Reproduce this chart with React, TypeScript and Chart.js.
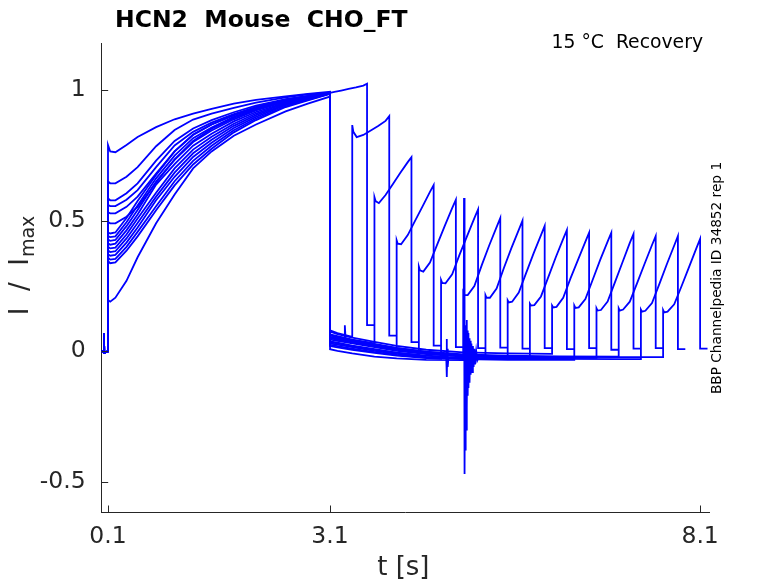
import { useEffect, useRef } from "react";
import { Chart, registerables } from "chart.js";

Chart.register(...registerables);

const FONT = '"DejaVu Sans", sans-serif';
const AXIS_COLOR = "#262626";
const TRACE_COLOR = "#0000ff";

const TITLE = "HCN2  Mouse  CHO_FT";
const SUBTITLE = "15 °C  Recovery";
const SIDE_LABEL = "BBP Channelpedia ID 34852 rep 1";

const X_MIN = 0.015;
const X_MAX = 8.22;
const Y_MIN = -0.615;
const Y_MAX = 1.18;
const X_TICKS = [0.1, 3.1, 8.1];
const X_TICK_LABELS = ["0.1", "3.1", "8.1"];
const Y_TICKS = [-0.5, 0, 0.5, 1];
const Y_TICK_LABELS = ["-0.5", "0", "0.5", "1"];

// holding segment before the conditioning step (shared by all sweeps)
const START_T = [0.015, 0.043, 0.046, 0.049, 0.1];
const START_I = [0.0, 0.0, 0.07, -0.005, 0.0];

// conditioning step 0.1 s -> 3.1 s
const PRE_T = [0.1, 0.13, 0.2, 0.35, 0.5, 0.75, 1.0, 1.25, 1.5, 1.8, 2.1, 2.5, 2.8, 3.1];
const PRE_I = [
  [0.79, 0.765, 0.762, 0.79, 0.82, 0.858, 0.888, 0.91, 0.928, 0.948, 0.962, 0.976, 0.985, 0.993],
  [0.65, 0.643, 0.643, 0.668, 0.705, 0.785, 0.847, 0.887, 0.91, 0.932, 0.952, 0.972, 0.983, 0.99],
  [0.585, 0.578, 0.578, 0.605, 0.643, 0.73, 0.805, 0.853, 0.885, 0.915, 0.94, 0.965, 0.978, 0.99],
  [0.56, 0.556, 0.556, 0.58, 0.617, 0.705, 0.788, 0.84, 0.875, 0.908, 0.935, 0.962, 0.976, 0.99],
  [0.532, 0.528, 0.528, 0.553, 0.592, 0.68, 0.765, 0.828, 0.868, 0.903, 0.932, 0.96, 0.975, 0.99],
  [0.495, 0.49, 0.49, 0.515, 0.553, 0.645, 0.735, 0.805, 0.852, 0.893, 0.925, 0.957, 0.973, 0.99],
  [0.455, 0.451, 0.455, 0.51, 0.575, 0.675, 0.765, 0.83, 0.868, 0.905, 0.935, 0.963, 0.977, 0.99],
  [0.441, 0.437, 0.44, 0.494, 0.558, 0.662, 0.749, 0.816, 0.856, 0.897, 0.929, 0.959, 0.975, 0.99],
  [0.428, 0.423, 0.426, 0.479, 0.541, 0.65, 0.733, 0.801, 0.845, 0.888, 0.922, 0.956, 0.973, 0.99],
  [0.414, 0.408, 0.412, 0.463, 0.524, 0.638, 0.716, 0.787, 0.833, 0.88, 0.916, 0.952, 0.971, 0.989],
  [0.4, 0.394, 0.397, 0.447, 0.508, 0.607, 0.7, 0.772, 0.821, 0.871, 0.91, 0.949, 0.968, 0.988],
  [0.386, 0.38, 0.383, 0.432, 0.491, 0.592, 0.684, 0.758, 0.81, 0.863, 0.904, 0.945, 0.966, 0.987],
  [0.372, 0.366, 0.369, 0.416, 0.474, 0.578, 0.668, 0.744, 0.798, 0.855, 0.897, 0.942, 0.964, 0.987],
  [0.359, 0.351, 0.354, 0.4, 0.457, 0.555, 0.651, 0.729, 0.787, 0.846, 0.891, 0.938, 0.962, 0.986],
  [0.345, 0.337, 0.34, 0.385, 0.44, 0.54, 0.635, 0.715, 0.775, 0.838, 0.885, 0.935, 0.96, 0.985],
  [0.196, 0.19, 0.205, 0.27, 0.36, 0.49, 0.6, 0.7, 0.765, 0.825, 0.868, 0.918, 0.948, 0.975],
];

// recovery interval at rest, from 3.1 s until the test step
const BASE_T = [3.1, 3.2, 3.4, 3.7, 4.0, 4.4, 4.9, 5.5, 6.2, 7.0, 7.6];
const BASE_I = [
  [0.07, 0.062, 0.048, 0.032, 0.017, 0.002, -0.01, -0.015, -0.018, -0.02, -0.02],
  [0.08, 0.07, 0.055, 0.04, 0.025, 0.01, 0.0, -0.005, -0.01, -0.012, -0.015],
  [0.065, 0.058, 0.045, 0.03, 0.015, 0.0, -0.012, -0.018, -0.02, -0.022, -0.022],
  [0.05, 0.045, 0.034, 0.02, 0.006, -0.008, -0.018, -0.024, -0.026, -0.027, -0.027],
  [0.035, 0.03, 0.02, 0.006, -0.006, -0.018, -0.026, -0.03, -0.031, -0.031, -0.031],
  [0.02, 0.015, 0.006, -0.006, -0.016, -0.026, -0.032, -0.034, -0.035, -0.035, -0.035],
  [0.008, 0.002, -0.008, -0.02, -0.027, -0.033, -0.034, -0.034, -0.033, -0.032, -0.03],
  [0.06, 0.054, 0.042, 0.026, 0.012, -0.002, -0.014, -0.019, -0.021, -0.022, -0.022],
  [0.045, 0.04, 0.03, 0.016, 0.002, -0.011, -0.02, -0.024, -0.026, -0.026, -0.026],
  [0.03, 0.026, 0.016, 0.002, -0.01, -0.021, -0.028, -0.03, -0.031, -0.031, -0.031],
  [0.075, 0.066, 0.052, 0.036, 0.021, 0.006, -0.004, -0.008, -0.01, -0.011, -0.012],
  [0.025, 0.02, 0.01, -0.003, -0.014, -0.024, -0.03, -0.033, -0.033, -0.033, -0.033],
  [0.052, 0.046, 0.035, 0.02, 0.006, -0.008, -0.018, -0.023, -0.025, -0.026, -0.026],
  [0.062, 0.055, 0.043, 0.028, 0.013, -0.001, -0.012, -0.017, -0.019, -0.02, -0.02],
  [0.038, 0.033, 0.022, 0.008, -0.005, -0.017, -0.025, -0.028, -0.029, -0.03, -0.03],
  [0.055, 0.05, 0.038, 0.023, 0.009, -0.005, -0.015, -0.02, -0.021, -0.022, -0.022],
];
const STEP_BASE = [0, 0.055, 0.03, 0.006, -0.015, -0.029, -0.034, -0.017, -0.024, -0.03, -0.01, -0.033, -0.025, -0.02, -0.03, -0.022];

// test step: start times, 0.5 s long, then 0.1 s of tail
const TEST_START = [3.1, 3.4, 3.7, 4.0, 4.3, 4.6, 4.9, 5.2, 5.5, 5.8, 6.1, 6.4, 6.7, 7.0, 7.3, 7.6];
const TEST_DT = [0, 0.015, 0.06, 0.15, 0.25, 0.35, 0.45, 0.5];
const TEST_I = [
  [0.99, 0.99, 0.993, 0.998, 1.004, 1.01, 1.017, 1.024],
  [0.866, 0.84, 0.82, 0.828, 0.845, 0.862, 0.882, 0.9],
  [0.59, 0.575, 0.567, 0.598, 0.64, 0.683, 0.724, 0.743],
  [0.425, 0.412, 0.41, 0.445, 0.5, 0.555, 0.61, 0.636],
  [0.324, 0.31, 0.305, 0.34, 0.41, 0.48, 0.548, 0.58],
  [0.273, 0.262, 0.26, 0.295, 0.37, 0.44, 0.51, 0.543],
  [0.225, 0.215, 0.215, 0.25, 0.33, 0.405, 0.475, 0.51],
  [0.215, 0.205, 0.205, 0.24, 0.32, 0.395, 0.465, 0.5],
  [0.195, 0.187, 0.19, 0.225, 0.3, 0.375, 0.445, 0.48],
  [0.182, 0.175, 0.177, 0.21, 0.285, 0.36, 0.43, 0.464],
  [0.175, 0.168, 0.17, 0.205, 0.28, 0.35, 0.42, 0.454],
  [0.175, 0.166, 0.168, 0.2, 0.275, 0.35, 0.42, 0.454],
  [0.165, 0.156, 0.158, 0.19, 0.265, 0.34, 0.415, 0.449],
  [0.165, 0.156, 0.16, 0.19, 0.262, 0.335, 0.407, 0.441],
  [0.16, 0.152, 0.155, 0.185, 0.258, 0.333, 0.405, 0.441],
  [0.158, 0.149, 0.152, 0.18, 0.25, 0.322, 0.395, 0.43],
];
const TEST_LEN = 0.5;
const TAIL_LEN = 0.1;
const TAIL_I = [0.1, 0.06, 0.035, 0.022, 0.016, 0.012, 0.014, 0.01, 0.012, 0.008, 0.012, 0.006, 0.01, 0.012, 0.008, 0.01];

// glitches seen on single sweeps
const SPIKE_A_SWEEP = 13;
const SPIKE_A_T = [3.29, 3.3, 3.31];
const SPIKE_A_I = [0.05, 0.1, 0.048];
const SPIKE_B_SWEEP = 14;
const SPIKE_B_T = [4.67, 4.675, 4.68, 4.685, 4.69, 4.7];
const SPIKE_B_I = [-0.02, 0.047, -0.098, 0.01, -0.06, -0.022];
const ARTIFACT_SWEEP = 15;
const ARTIFACT_T = [
  4.905, 4.91, 4.915, 4.92, 4.925, 4.93, 4.935, 4.94, 4.945, 4.95, 4.955, 4.96, 4.965, 4.97, 4.978,
  4.985, 4.992, 5.0, 5.01, 5.02, 5.03, 5.04, 5.05, 5.06, 5.075, 5.09, 5.12,
];
const ARTIFACT_I = [
  -0.02, 0.587, -0.3, -0.47, 0.1, -0.38, 0.06, -0.3, 0.12, -0.22, 0.08, -0.17, 0.07, -0.14, 0.05,
  -0.12, 0.04, -0.09, 0.03, -0.08, 0.02, -0.06, 0.01, -0.05, 0.0, -0.035, -0.016,
];

type Pt = { x: number; y: number };

function zip(ts: number[], vs: number[]): Pt[] {
  return ts.map((t, i) => ({ x: t, y: vs[i] }));
}

function sweep(k: number): Pt[] {
  const start = TEST_START[k];
  let base = zip(BASE_T, BASE_I[k]).filter((p) => p.x < start);
  if (k === SPIKE_A_SWEEP) base = base.concat(zip(SPIKE_A_T, SPIKE_A_I));
  if (k === SPIKE_B_SWEEP) base = base.concat(zip(SPIKE_B_T, SPIKE_B_I));
  if (k === ARTIFACT_SWEEP) base = base.concat(zip(ARTIFACT_T, ARTIFACT_I));
  base.sort((a, b) => a.x - b.x);
  if (base.length) base.push({ x: start, y: STEP_BASE[k] });

  const end = start + TEST_LEN;
  return [
    ...zip(START_T, START_I),
    ...zip(PRE_T, PRE_I[k]),
    ...base,
    ...TEST_DT.map((dt, i) => ({ x: start + dt, y: TEST_I[k][i] })),
    { x: end, y: TAIL_I[k] },
    { x: end + TAIL_LEN, y: TAIL_I[k] },
  ];
}

const decorations = {
  id: "decorations",
  afterDraw(chart: Chart) {
    const { ctx, chartArea, scales } = chart;
    const { left, right, top, bottom } = chartArea;
    ctx.save();

    // MATLAB-style inward ticks
    ctx.strokeStyle = AXIS_COLOR;
    ctx.lineWidth = 1;
    ctx.beginPath();
    Y_TICKS.forEach((v) => {
      const y = Math.round(scales.y.getPixelForValue(v)) + 0.5;
      ctx.moveTo(left, y);
      ctx.lineTo(left + 6.5, y);
    });
    X_TICKS.forEach((v) => {
      const x = Math.round(scales.x.getPixelForValue(v)) + 0.5;
      ctx.moveTo(x, bottom);
      ctx.lineTo(x, bottom - 6.5);
    });
    ctx.stroke();

    ctx.fillStyle = "#000";
    ctx.textBaseline = "alphabetic";
    ctx.textAlign = "left";
    ctx.font = `bold 23.5px ${FONT}`;
    ctx.fillText(TITLE, 115, 27);

    ctx.font = `18.8px ${FONT}`;
    ctx.textAlign = "right";
    ctx.fillText(SUBTITLE, 703, 48);

    // x label
    ctx.fillStyle = AXIS_COLOR;
    ctx.font = `26px ${FONT}`;
    ctx.textAlign = "center";
    ctx.fillText("t [s]", (left + right) / 2 - 2, 575);

    // y label "I / I_max"
    ctx.save();
    ctx.translate(28, 266);
    ctx.rotate(-Math.PI / 2);
    ctx.font = `26px ${FONT}`;
    const main = "I  /  I";
    const wMain = ctx.measureText(main).width;
    ctx.font = `19px ${FONT}`;
    const wSub = ctx.measureText("max").width;
    const x0 = -(wMain + wSub) / 2;
    ctx.textAlign = "left";
    ctx.font = `26px ${FONT}`;
    ctx.fillText(main, x0, 0);
    ctx.font = `19px ${FONT}`;
    ctx.fillText("max", x0 + wMain + 1, 6);
    ctx.restore();

    // side label
    ctx.save();
    ctx.translate(717, 278);
    ctx.rotate(-Math.PI / 2);
    ctx.fillStyle = "#000";
    ctx.font = `13.7px ${FONT}`;
    ctx.textAlign = "center";
    ctx.textBaseline = "middle";
    ctx.fillText(SIDE_LABEL, 0, 0);
    ctx.restore();

    ctx.restore();
  },
};

export default function App() {
  const canvasRef = useRef<HTMLCanvasElement>(null);

  useEffect(() => {
    if (!canvasRef.current) return;
    const chart = new Chart(canvasRef.current, {
      type: "line",
      data: {
        datasets: TEST_START.map((_, k) => ({
          data: sweep(k),
          borderColor: TRACE_COLOR,
          borderWidth: 1.8,
          pointRadius: 0,
          tension: 0,
          fill: false,
        })),
      },
      options: {
        responsive: true,
        maintainAspectRatio: false,
        animation: false,
        layout: { padding: { left: 0, top: 43, right: 69, bottom: 0 } },
        plugins: {
          legend: { display: false },
          tooltip: { enabled: false },
          title: { display: false },
        },
        scales: {
          x: {
            type: "linear",
            min: X_MIN,
            max: X_MAX,
            afterFit: (s: any) => {
              s.height = 71;
            },
            afterBuildTicks: (s: any) => {
              s.ticks = X_TICKS.map((v) => ({ value: v }));
            },
            grid: { display: false, drawTicks: false },
            border: { display: true, color: AXIS_COLOR, width: 1 },
            ticks: {
              color: AXIS_COLOR,
              font: { family: FONT, size: 23.5 },
              padding: 11,
              maxRotation: 0,
              autoSkip: false,
              callback: (_v: any, i: number) => X_TICK_LABELS[i],
            },
          },
          y: {
            type: "linear",
            min: Y_MIN,
            max: Y_MAX,
            afterFit: (s: any) => {
              s.width = 101.7;
            },
            afterBuildTicks: (s: any) => {
              s.ticks = Y_TICKS.map((v) => ({ value: v }));
            },
            grid: { display: false, drawTicks: false },
            border: { display: true, color: AXIS_COLOR, width: 1 },
            ticks: {
              color: AXIS_COLOR,
              font: { family: FONT, size: 23.5 },
              padding: 16,
              autoSkip: false,
              callback: (_v: any, i: number) => Y_TICK_LABELS[i],
            },
          },
        },
      },
      plugins: [decorations],
    });

    return () => {
      chart.destroy();
    };
  }, []);

  return (
    <div
      style={{
        position: "fixed",
        left: 0,
        top: 0,
        width: "778px",
        height: "583px",
        background: "#ffffff",
      }}
    >
      <canvas ref={canvasRef} />
    </div>
  );
}
